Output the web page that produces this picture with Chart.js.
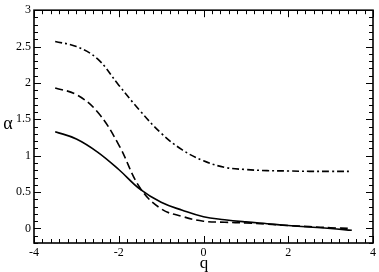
<!DOCTYPE html>
<html><head><meta charset="utf-8">
<script src="https://cdn.jsdelivr.net/npm/chart.js@4"></script>
<style>html,body{margin:0;padding:0;background:#fff}#c{display:block}</style>
</head><body>
<canvas id="c" width="379" height="272"></canvas>
<script>
const qValues = [-3.5,-3,-2.5,-2,-1.5,-1,-0.5,0,0.5,1,1.5,2,2.5,3,3.5];
const solidAlpha = [1.33,1.23,1.05,0.81,0.54,0.36,0.25,0.16,0.12,0.09,0.065,0.04,0.02,0.0,-0.025];
const dashedAlpha = [1.93,1.84,1.60,1.15,0.56,0.27,0.165,0.10,0.085,0.075,0.06,0.04,0.025,0.01,0.0];
const dashDotAlpha = [2.57,2.50,2.33,1.97,1.62,1.31,1.08,0.93,0.84,0.81,0.795,0.79,0.785,0.785,0.785];
const xTickLabels = [-4,-2,0,2,4];
const yTickLabels = [0,0.5,1,1.5,2,2.5,3];

function pts(ys){return qValues.map((x,i)=>({x:x,y:ys[i]}));}
const FONT = "'Liberation Serif', 'DejaVu Serif', serif";

const framePlugin = {
  id:'frame',
  afterDraw(chart){
    const ctx=chart.ctx, a=chart.chartArea, xs=chart.scales.x, ys=chart.scales.y;
    ctx.save();
    ctx.strokeStyle='#000'; ctx.lineWidth=1.6;
    ctx.strokeRect(a.left,a.top,a.right-a.left,a.bottom-a.top);
    ctx.lineWidth=1;
    ctx.beginPath();
    for(let i=0;i<=40;i++){
      const v=-4+i*0.2; const px=Math.round(xs.getPixelForValue(v))+0.5;
      const L = (i%10===0)?7:4;
      ctx.moveTo(px,a.bottom); ctx.lineTo(px,a.bottom-L);
      ctx.moveTo(px,a.top); ctx.lineTo(px,a.top+L);
    }
    for(let i=0;i<=32;i++){
      const v=-0.2+i*0.1; const py=Math.round(ys.getPixelForValue(v))+0.5;
      const L = (Math.abs(v*2-Math.round(v*2))<1e-6)?7:4;
      ctx.moveTo(a.left,py); ctx.lineTo(a.left+L,py);
      ctx.moveTo(a.right,py); ctx.lineTo(a.right-L,py);
    }
    ctx.stroke();
    ctx.fillStyle='#000';
    ctx.textAlign='center'; ctx.textBaseline='middle';
    ctx.font="18px "+FONT;
    ctx.fillText('α',8,124);
    ctx.font="17px "+FONT;
    ctx.fillText('q',204,264);
    ctx.restore();
  }
};

new Chart(document.getElementById('c'),{
  type:'line',
  data:{datasets:[
    {data:pts(solidAlpha),borderColor:'#000',borderWidth:1.6,pointRadius:0,tension:0.4,fill:false},
    {data:pts(dashedAlpha),borderColor:'#000',borderWidth:1.6,borderDash:[8,4],pointRadius:0,tension:0.4,fill:false},
    {data:pts(dashDotAlpha),borderColor:'#000',borderWidth:1.6,borderDash:[7,3,2,3],pointRadius:0,tension:0.4,fill:false}
  ]},
  options:{
    responsive:false,animation:false,
    layout:{padding:{left:0,right:6,top:6,bottom:0}},
    plugins:{legend:{display:false},tooltip:{enabled:false}},
    scales:{
      x:{type:'linear',min:-4,max:4,
        afterBuildTicks(s){s.ticks=xTickLabels.map(v=>({value:v}));},
        afterFit(s){s.height=29;},
        grid:{display:false,drawTicks:false,tickLength:0},border:{display:false},
        ticks:{color:'#000',font:{family:FONT,size:12},padding:3,maxRotation:0,autoSkip:false,callback:v=>String(v)}
      },
      y:{type:'linear',min:-0.2,max:3,
        afterBuildTicks(s){s.ticks=yTickLabels.map(v=>({value:v}));},
        afterFit(s){s.width=34;},
        grid:{display:false,drawTicks:false,tickLength:0},border:{display:false},
        ticks:{color:'#000',font:{family:FONT,size:12},padding:3,autoSkip:false,callback:v=>String(v)}
      }
    }
  },
  plugins:[framePlugin]
});
</script>
</body></html>
